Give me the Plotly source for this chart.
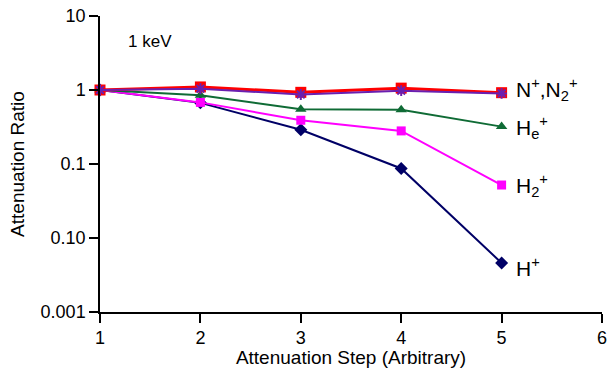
import math
import plotly.graph_objects as go

steps = [1, 2, 3, 4, 5]
n_plus = [1.0, 1.1, 0.93, 1.06, 0.92]
n2_plus = [1.0, 1.04, 0.87, 0.98, 0.90]
he_plus = [1.0, 0.85, 0.55, 0.54, 0.32]
h2_plus = [1.0, 0.68, 0.39, 0.28, 0.052]
h_plus = [1.0, 0.67, 0.29, 0.087, 0.0046]

y_tickvals = [10, 1, 0.1, 0.01, 0.001]
y_ticktext = ["10", "1", "0.1", "0.10", "0.001"]
x_tickvals = [1, 2, 3, 4, 5, 6]

label_texts = ["N<sup>+</sup>,N<sub>2</sub><sup>+</sup>",
               "H<sub>e</sub><sup>+</sup>",
               "H<sub>2</sub><sup>+</sup>",
               "H<sup>+</sup>"]
label_values = [0.92, 0.32, 0.052, 0.0046]
label_shifts = [3, -1, 0, -4]

font_family = "Liberation Sans, Arial, sans-serif"

fig = go.Figure()

def add(y, color, symbol, msize, lw, mline=0):
    fig.add_trace(go.Scatter(
        x=steps, y=y, mode="lines+markers",
        line=dict(color=color, width=lw),
        marker=dict(symbol=symbol, size=msize, color=color,
                    line=dict(color=color, width=mline)),
        cliponaxis=False, showlegend=False, hoverinfo="skip"))

add(h_plus, "#000066", "diamond", 10, 2)
add(h2_plus, "#ff00ff", "square", 9, 2)
add(he_plus, "#0f6b35", "triangle-up", 10, 2)
add(n_plus, "#ff0000", "square", 11, 3)
add(n2_plus, "#6a1fb0", "asterisk-open", 9, 2, mline=2)

fig.add_annotation(x=0.052, y=0.915, xref="paper", yref="paper", text="1 keV",
                   showarrow=False, xanchor="left", yanchor="middle",
                   font=dict(size=17, color="black", family=font_family))

for txt, yv, ys in zip(label_texts, label_values, label_shifts):
    fig.add_annotation(x=5.12, y=math.log10(yv), text=txt, yshift=ys,
                       showarrow=False, xanchor="left", yanchor="middle",
                       font=dict(size=21, color="black", family=font_family))

fig.update_layout(
    width=611, height=368,
    margin=dict(l=100, r=9, t=16, b=56, autoexpand=False),
    plot_bgcolor="white", paper_bgcolor="white",
    font=dict(family=font_family, size=18, color="black"),
    xaxis=dict(range=[1, 6], tickvals=x_tickvals, showgrid=False, zeroline=False,
               showline=True, linecolor="black", linewidth=1.5, automargin=False,
               ticks="outside", ticklen=9, tickcolor="black", tickwidth=1.5,
               title=dict(text="Attenuation Step (Arbitrary)", standoff=5,
                          font=dict(size=19)),
               tickfont=dict(size=18)),
    yaxis=dict(type="log", range=[-3, 1], tickvals=y_tickvals, ticktext=y_ticktext,
               showgrid=False, zeroline=False, automargin=False,
               showline=True, linecolor="black", linewidth=1.5,
               ticks="outside", ticklen=9, tickcolor="black", tickwidth=1.5,
               title=dict(text="Attenuation Ratio", standoff=11, font=dict(size=19)),
               tickfont=dict(size=18)),
)

fig.write_html("out.html", config={"displayModeBar": False},
               post_script="document.body.style.margin='0px';")
